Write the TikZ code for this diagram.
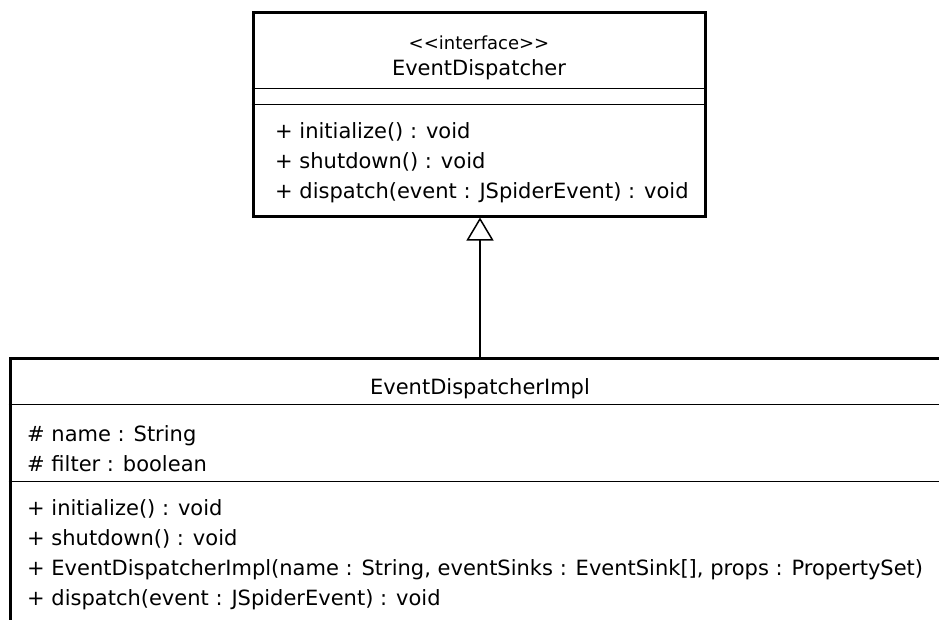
\documentclass[tikz,border=0pt]{standalone}
\usepackage{fontspec}
\newfontfamily\umlfont{DejaVu Sans}
\usetikzlibrary{arrows.meta}

\begin{document}
\begin{tikzpicture}[x=1pt, y=-1pt,
    classbox/.style={draw, line width=3pt, inner sep=0pt},
    divider/.style={line width=1.3pt},
    umltext/.style={font=\umlfont\fontsize{21}{30}\selectfont, inner sep=0pt},
    members/.style={umltext, align=left, anchor=west},
    realizes/.style={line width=1.5pt, -{Triangle[open, length=23pt, width=27pt, line width=1.5pt]}}]
    \useasboundingbox (0,0) rectangle (939,619);
    \clip (0,0) rectangle (939,619);

    % interface
    \node[classbox, minimum width=452pt, minimum height=204pt] (iface) at (479,114) {};
    \node[umltext, font=\umlfont\fontsize{18}{20}\selectfont] (ifacestereo) at (479,43) {<<interface>>};
    \node[umltext] (ifacename) at (479,70) {EventDispatcher};
    \node[members] (ifaceops) at (275,162.5) {+ initialize() : void\\+ shutdown() : void\\+ dispatch(event : JSpiderEvent) : void};
    \draw[divider] ([yshift=-78pt]iface.north west) -- ([yshift=-78pt]iface.north east);
    \draw[divider] ([yshift=-94pt]iface.north west) -- ([yshift=-94pt]iface.north east);

    % implementation
    \node[classbox, minimum width=940pt, minimum height=300pt] (impl) at (480,508) {};
    \node[umltext] (implname) at (480,388.5) {EventDispatcherImpl};
    \node[members] (implattrs) at (27,448.5) {\# name : String\\\# filter : boolean};
    \node[members] (implops) at (27,555) {+ initialize() : void\\+ shutdown() : void\\+ EventDispatcherImpl(name : String, eventSinks : EventSink[], props : PropertySet)\\+ dispatch(event : JSpiderEvent) : void};
    \draw[divider] ([yshift=-48pt]impl.north west) -- ([yshift=-48pt]impl.north east);
    \draw[divider] ([yshift=-125pt]impl.north west) -- ([yshift=-125pt]impl.north east);

    \draw[realizes] (impl.north) -- (impl.north |- iface.south);
\end{tikzpicture}
\end{document}
